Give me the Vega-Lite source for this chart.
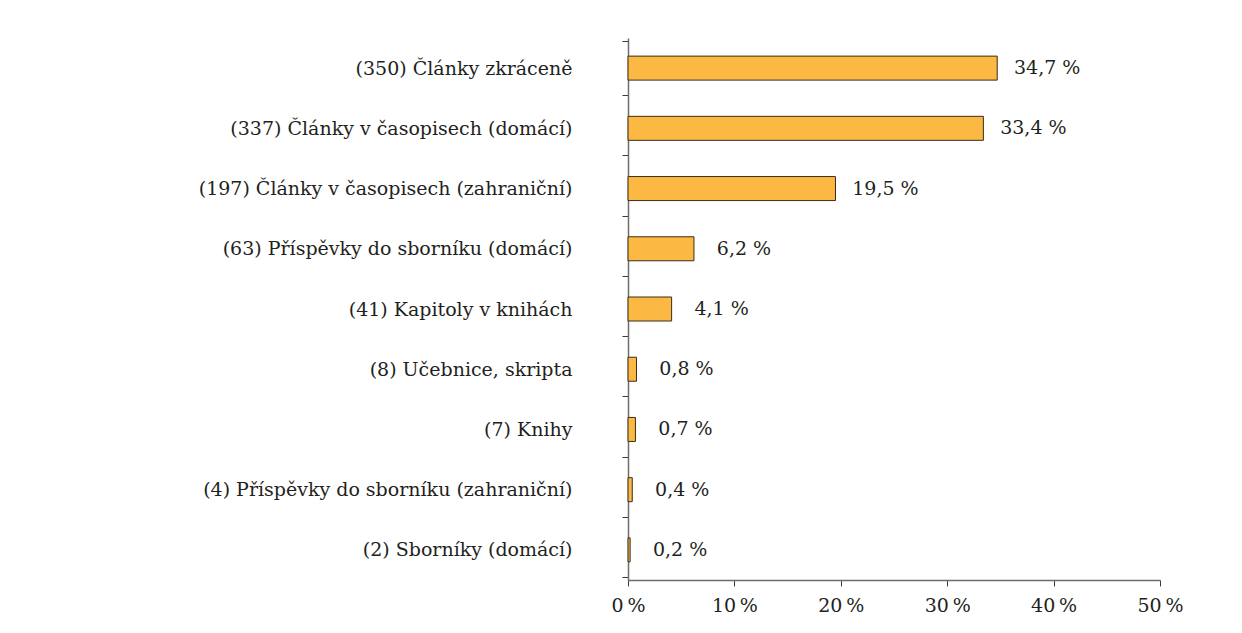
{
  "$schema": "https://vega.github.io/schema/vega-lite/v6.json",
  "autosize": {"type": "none"},
  "padding": {"left": 628, "top": 38, "right": 82, "bottom": 53},
  "width": 532,
  "height": 542,
  "background": "white",
  "config": {
    "view": {"stroke": null},
    "font": "DejaVu Serif",
    "axis": {"labelFont": "DejaVu Serif", "labelFontSize": 19, "labelColor": "#231f20", "domainColor": "#6d6d6d", "tickColor": "#3a3a3a", "domainWidth": 1.5, "grid": false, "title": null}
  },
  "data": {"values": [
    {"category": "(350) Články zkráceně", "value": 34.7, "label": "34,7 %"},
    {"category": "(337) Články v časopisech (domácí)", "value": 33.4, "label": "33,4 %"},
    {"category": "(197) Články v časopisech (zahraniční)", "value": 19.5, "label": "19,5 %"},
    {"category": "(63) Příspěvky do sborníku (domácí)", "value": 6.2, "label": "6,2 %"},
    {"category": "(41) Kapitoly v knihách", "value": 4.1, "label": "4,1 %"},
    {"category": "(8) Učebnice, skripta", "value": 0.8, "label": "0,8 %"},
    {"category": "(7) Knihy", "value": 0.7, "label": "0,7 %"},
    {"category": "(4) Příspěvky do sborníku (zahraniční)", "value": 0.4, "label": "0,4 %"},
    {"category": "(2) Sborníky (domácí)", "value": 0.2, "label": "0,2 %"}
  ]},
  "encoding": {
    "y": {"field": "category", "type": "nominal", "sort": null,
      "axis": {"tickBand": "extent", "tickSize": 6, "labelPadding": 50, "labelLimit": 500, "domainWidth": 1.5}}
  },
  "layer": [
    {
      "mark": {"type": "bar", "size": 24, "fill": "#fbb843", "stroke": "#3b2c1c", "strokeWidth": 1},
      "encoding": {
        "x": {"field": "value", "type": "quantitative", "scale": {"domain": [0, 50], "nice": false},
          "axis": {"values": [0, 10, 20, 30, 40, 50], "tickSize": 6, "labelPadding": 10, "labelFlush": false, "labelExpr": "datum.value + '\u2009%'"}}
      }
    },
    {
      "mark": {"type": "text", "align": "center", "baseline": "middle", "dx": 50, "fontSize": 19, "color": "#231f20", "font": "DejaVu Serif"},
      "encoding": {
        "x": {"field": "value", "type": "quantitative"},
        "text": {"field": "label"}
      }
    }
  ]
}
